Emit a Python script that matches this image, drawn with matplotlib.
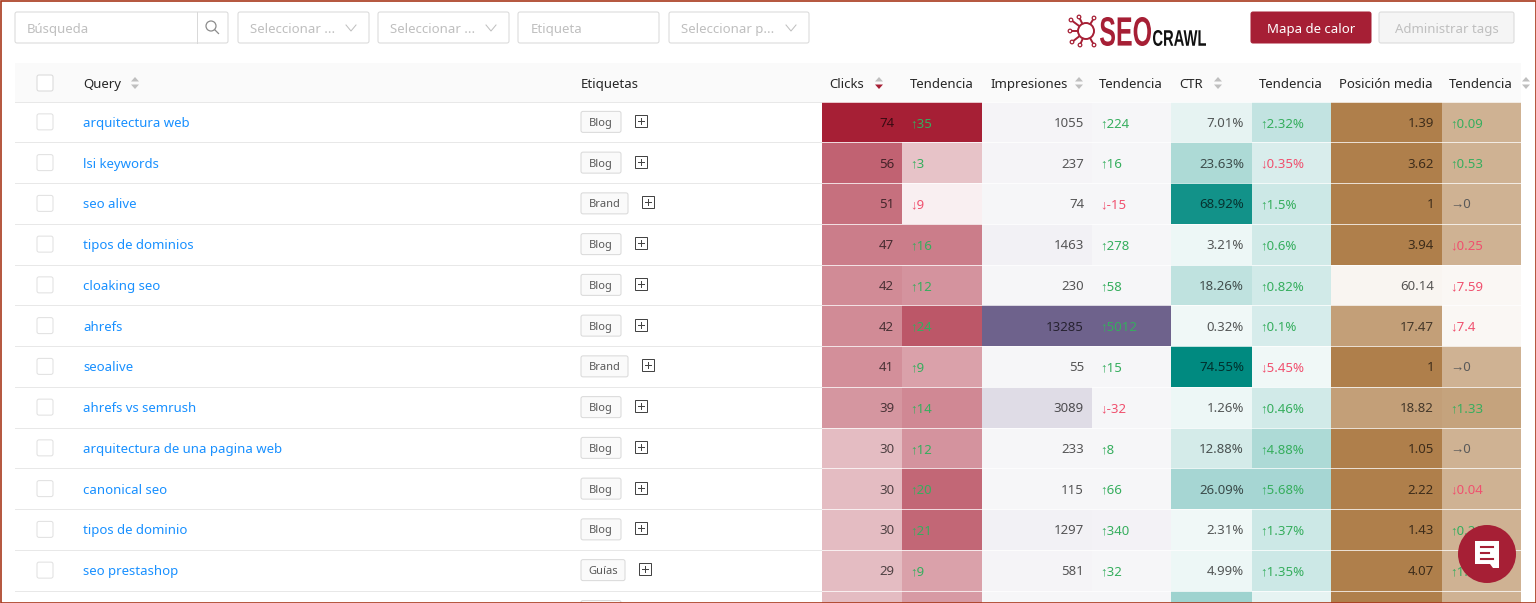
import matplotlib
matplotlib.use('Agg')
import matplotlib.pyplot as plt
from matplotlib.patches import Rectangle, FancyBboxPatch, Ellipse, Circle, Polygon, PathPatch
from matplotlib.colors import to_rgb
from matplotlib.font_manager import FontProperties
from matplotlib.textpath import TextPath
from matplotlib.transforms import Affine2D

plt.rcParams['font.family'] = ['Noto Sans', 'Liberation Sans', 'DejaVu Sans']

queries = ['arquitectura web', 'lsi keywords', 'seo alive', 'tipos de dominios', 'cloaking seo', 'ahrefs',
           'seoalive', 'ahrefs vs semrush', 'arquitectura de una pagina web', 'canonical seo',
           'tipos de dominio', 'seo prestashop']
tags = ['Blog', 'Blog', 'Brand', 'Blog', 'Blog', 'Blog', 'Brand', 'Blog', 'Blog', 'Blog', 'Blog', 'Guías']

clicks = ['74', '56', '51', '47', '42', '42', '41', '39', '30', '30', '30', '29']
clicks_trend = ['↑35', '↑3', '↓9', '↑16', '↑12', '↑24', '↑9', '↑14', '↑12', '↑20', '↑21', '↑9']
impressions = ['1055', '237', '74', '1463', '230', '13285', '55', '3089', '233', '115', '1297', '581']
impressions_trend = ['↑224', '↑16', '↓-15', '↑278', '↑58', '↑5012', '↑15', '↓-32', '↑8', '↑66', '↑340', '↑32']
ctr = ['7.01%', '23.63%', '68.92%', '3.21%', '18.26%', '0.32%', '74.55%', '1.26%', '12.88%', '26.09%', '2.31%', '4.99%']
ctr_trend = ['↑2.32%', '↓0.35%', '↑1.5%', '↑0.6%', '↑0.82%', '↑0.1%', '↓5.45%', '↑0.46%', '↑4.88%', '↑5.68%', '↑1.37%', '↑1.35%']
position = ['1.39', '3.62', '1', '3.94', '60.14', '17.47', '1', '18.82', '1.05', '2.22', '1.43', '4.07']
position_trend = ['↑0.09', '↑0.53', '→0', '↓0.25', '↓7.59', '↓7.4', '→0', '↑1.33', '→0', '↓0.04', '↑0.26', '↑1.1']

# heat strength of every cell, last entry is the row cut off at the bottom
clicks_heat = [1, .7, .64, .58, .52, .52, .5, .47, .3, .3, .3, .3, .3]
clicks_trend_heat = [1, .27, .07, .58, .48, .75, .42, .53, .48, .68, .68, .42, .45]
impressions_heat = [.07, .07, .06, .09, .06, 1, .06, .22, .06, .06, .09, .07, .06]
impressions_trend_heat = [.06, .06, .06, .06, .06, 1, .06, .06, .06, .06, .08, .06, .06]
ctr_heat = [.1, .32, .93, .07, .25, .06, 1, .07, .17, .35, .06, .07, .38]
ctr_trend_heat = [.24, .15, .2, .18, .18, .16, .06, .18, .32, .35, .2, .2, .1]
position_heat = [1, 1, 1, 1, .08, .75, 1, .75, 1, 1, 1, 1, 1]
position_trend_heat = [.6, .6, .6, .6, .06, .06, .6, .72, .6, .6, .6, .6, .6]

RED = '#a61f35'
PURPLE = '#6e628c'
TEAL = '#008a80'
BROWN = '#af7f4b'
LINK = '#1890ff'
GREEN = '#36ae5e'
PINK = '#f0506e'

ROW_TOP = 101.5
ROW_H = 40.75
THIN = 0.72  # one pixel at this dpi
FS = 9.5
TEXT_DY = 1.5  # the font sits a bit high with va='center'

# (left, right, values, heat, colour, is trend column)
columns = [
    (822, 902, clicks, clicks_heat, RED, False),
    (902, 982, clicks_trend, clicks_trend_heat, RED, True),
    (982, 1092, impressions, impressions_heat, PURPLE, False),
    (1092, 1171, impressions_trend, impressions_trend_heat, PURPLE, True),
    (1171, 1252, ctr, ctr_heat, TEAL, False),
    (1252, 1331, ctr_trend, ctr_trend_heat, TEAL, True),
    (1331, 1442, position, position_heat, BROWN, False),
    (1442, 1521, position_trend, position_trend_heat, BROWN, True),
]


def blend(color, a):
    return tuple(1 - a * (1 - c) for c in to_rgb(color))


def box(ax, x0, y0, x1, y1, fc='white', ec='#d9d9d9', r=2, lw=THIN, z=3):
    ax.add_patch(FancyBboxPatch((x0, y0), x1 - x0, y1 - y0, boxstyle='round,pad=0,rounding_size=%g' % r,
                                fc=fc, ec=ec, lw=lw, zorder=z))


def chevron(ax, x, y):
    ax.plot([x - 5, x, x + 5], [y - 3, y + 3, y - 3], color='#bfbfbf', lw=THIN, zorder=4)


def caret(ax, x, y=83, active=False):
    ax.add_patch(Polygon([(x - 4, y - 1.5), (x + 4, y - 1.5), (x, y - 6)], fc='#bfbfbf', ec='none', zorder=4))
    ax.add_patch(Polygon([(x - 4, y + 1.5), (x + 4, y + 1.5), (x, y + 6)], fc=RED if active else '#bfbfbf', ec='none', zorder=4))


def plus_box(ax, x, y):
    ax.add_patch(Rectangle((x - 6, y - 6), 12, 12, fc='white', ec='#444444', lw=THIN, zorder=4))
    ax.plot([x - 3, x + 3], [y, y], color='#444444', lw=THIN, zorder=5)
    ax.plot([x, x], [y - 3, y + 3], color='#444444', lw=THIN, zorder=5)


def fitted_text(ax, s, x0, y0, x1, y1, color):
    # squeeze a word into a pixel box, the logo lettering is very condensed
    path = TextPath((0, 0), s, size=10, prop=FontProperties(family='Liberation Sans', weight='bold'))
    b = path.get_extents()
    tr = Affine2D().translate(-b.x0, -b.y0).scale((x1 - x0) / b.width, -(y1 - y0) / b.height).translate(x0, y1)
    ax.add_patch(PathPatch(path.transformed(tr), fc=color, ec='none', zorder=5))


def text_color(s):
    if s[0] == '↑':
        return GREEN
    if s[0] == '↓':
        return PINK
    return '#595959'


fig = plt.figure(figsize=(15.36, 6.03), dpi=100)
ax = fig.add_axes([0, 0, 1, 1])
ax.set_xlim(0, 1536)
ax.set_ylim(603, 0)
ax.axis('off')

# filter bar
box(ax, 15, 12, 228, 43)
ax.plot([197, 197], [12, 43], color='#d9d9d9', lw=THIN, zorder=4)
ax.text(27, 28 + TEXT_DY, 'Búsqueda', fontsize=FS, color='#bfbfbf', va='center', zorder=5)
ax.add_patch(Circle((211, 26), 5, fc='none', ec='#8c8c8c', lw=0.9, zorder=5))
ax.plot([214.5, 218.5], [29.5, 33.5], color='#8c8c8c', lw=0.9, zorder=5)
for x0, x1, label in [(238, 369, 'Seleccionar ...'), (378, 509, 'Seleccionar ...'), (669, 809, 'Seleccionar p...')]:
    box(ax, x0, 12, x1, 43)
    ax.text(x0 + 12, 28 + TEXT_DY, label, fontsize=FS, color='#bfbfbf', va='center', zorder=5)
    chevron(ax, x1 - 18, 28)
box(ax, 518, 12, 659, 43)
ax.text(531, 28 + TEXT_DY, 'Etiqueta', fontsize=FS, color='#bfbfbf', va='center', zorder=5)

box(ax, 1251, 12, 1371, 43, fc=RED, ec=RED)
ax.text(1311, 28 + TEXT_DY, 'Mapa de calor', fontsize=FS, color='white', ha='center', va='center', zorder=5)
box(ax, 1379, 12, 1514, 43, fc='#f5f5f5', ec='#d9d9d9')
ax.text(1446.5, 28 + TEXT_DY, 'Administrar tags', fontsize=FS, color='#bfbfbf', ha='center', va='center', zorder=5)

# logo
fitted_text(ax, 'SEO', 1100, 17, 1151, 46, RED)
fitted_text(ax, 'CRAWL', 1153, 30, 1206, 46, '#111111')
ax.add_patch(Circle((1086, 31), 8, fc='white', ec=RED, lw=1.4, zorder=5))
for dx, dy in [(-15, -11), (-16, 0), (-14, 11), (-7, -14), (-6, 14), (8, -13), (8, 14)]:
    ax.plot([1086, 1086 + dx], [31, 31 + dy], color=RED, lw=1.4, zorder=4)
    ax.add_patch(Circle((1086 + dx, 31 + dy), 1.8, fc='white', ec=RED, lw=0.9, zorder=5))

# header row
ax.add_patch(Rectangle((15, 63), 1506, 38.5, fc='#fafafa', ec='none', zorder=1))
box(ax, 37, 75, 53, 91, ec='#d9d9d9')
for x, label in [(83, 'Query'), (581, 'Etiquetas'), (829, 'Clicks'), (910, 'Tendencia'), (990, 'Impresiones'),
                 (1099, 'Tendencia'), (1179, 'CTR'), (1259, 'Tendencia'), (1339, 'Posición media'), (1449, 'Tendencia')]:
    ax.text(x, 83 + TEXT_DY, label, fontsize=FS, color='#262626', va='center', zorder=5)
caret(ax, 135)
caret(ax, 879, active=True)
caret(ax, 1079)
caret(ax, 1218)
caret(ax, 1526)

# rows, left part
for i in range(13):
    y = ROW_TOP + ROW_H * i
    mid = y + ROW_H / 2
    ax.plot([15, 822], [y, y], color='#e8e8e8', lw=THIN, zorder=2)
    if i == 12:
        box(ax, 581, y + 10, 621, y + 31, fc='#fafafa')
        continue
    box(ax, 37, mid - 8, 53, mid + 8, ec='#e0e0e0')
    ax.text(83, mid + TEXT_DY, queries[i], fontsize=FS, color=LINK, va='center', zorder=5)
    w = {'Blog': 40, 'Brand': 47, 'Guías': 44}[tags[i]]
    box(ax, 581, mid - 10.5, 581 + w, mid + 10.5, fc='#fafafa')
    ax.text(581 + w / 2, mid + TEXT_DY, tags[i], fontsize=8, color='#595959', ha='center', va='center', zorder=5)
    plus_box(ax, 581 + w + 20, mid - 1)

# heat cells
for x0, x1, values, heat, base, trend in columns:
    for i, a in enumerate(heat):
        y = ROW_TOP + ROW_H * i
        ax.add_patch(Rectangle((x0, y), x1 - x0, ROW_H, fc=blend(base, a), ec='none', zorder=2))
        if i < len(values):
            s = values[i]
            if trend:
                ax.text(x0 + 8, y + ROW_H / 2 + TEXT_DY, s, fontsize=FS, color=text_color(s), va='center', zorder=5)
            else:
                ax.text(x1 - 8, y + ROW_H / 2 + TEXT_DY, s, fontsize=FS, color='black', alpha=0.65, ha='right', va='center', zorder=5)
for i in range(14):
    y = ROW_TOP + ROW_H * i
    ax.plot([822, 1521], [y, y], color='white', lw=THIN, alpha=0.75, zorder=3)

# chat button
ax.add_patch(Ellipse((1487, 554), 58, 58, fc=RED, ec='none', zorder=6))
ax.add_patch(Polygon([(1475, 541), (1499, 541), (1499, 568), (1493, 568), (1490, 564), (1475, 564)], fc='white', ec='none', zorder=7))
for y, x1 in [(547, 1493), (553, 1489), (559, 1493)]:
    ax.plot([1481, x1], [y, y], color=RED, lw=1.5, zorder=8)

# screenshot frame
ax.add_patch(Rectangle((0.5, 0.5), 1535, 602, fc='none', ec='#a8381b', lw=1.2, zorder=9))

fig.savefig('out.png', dpi=100)
